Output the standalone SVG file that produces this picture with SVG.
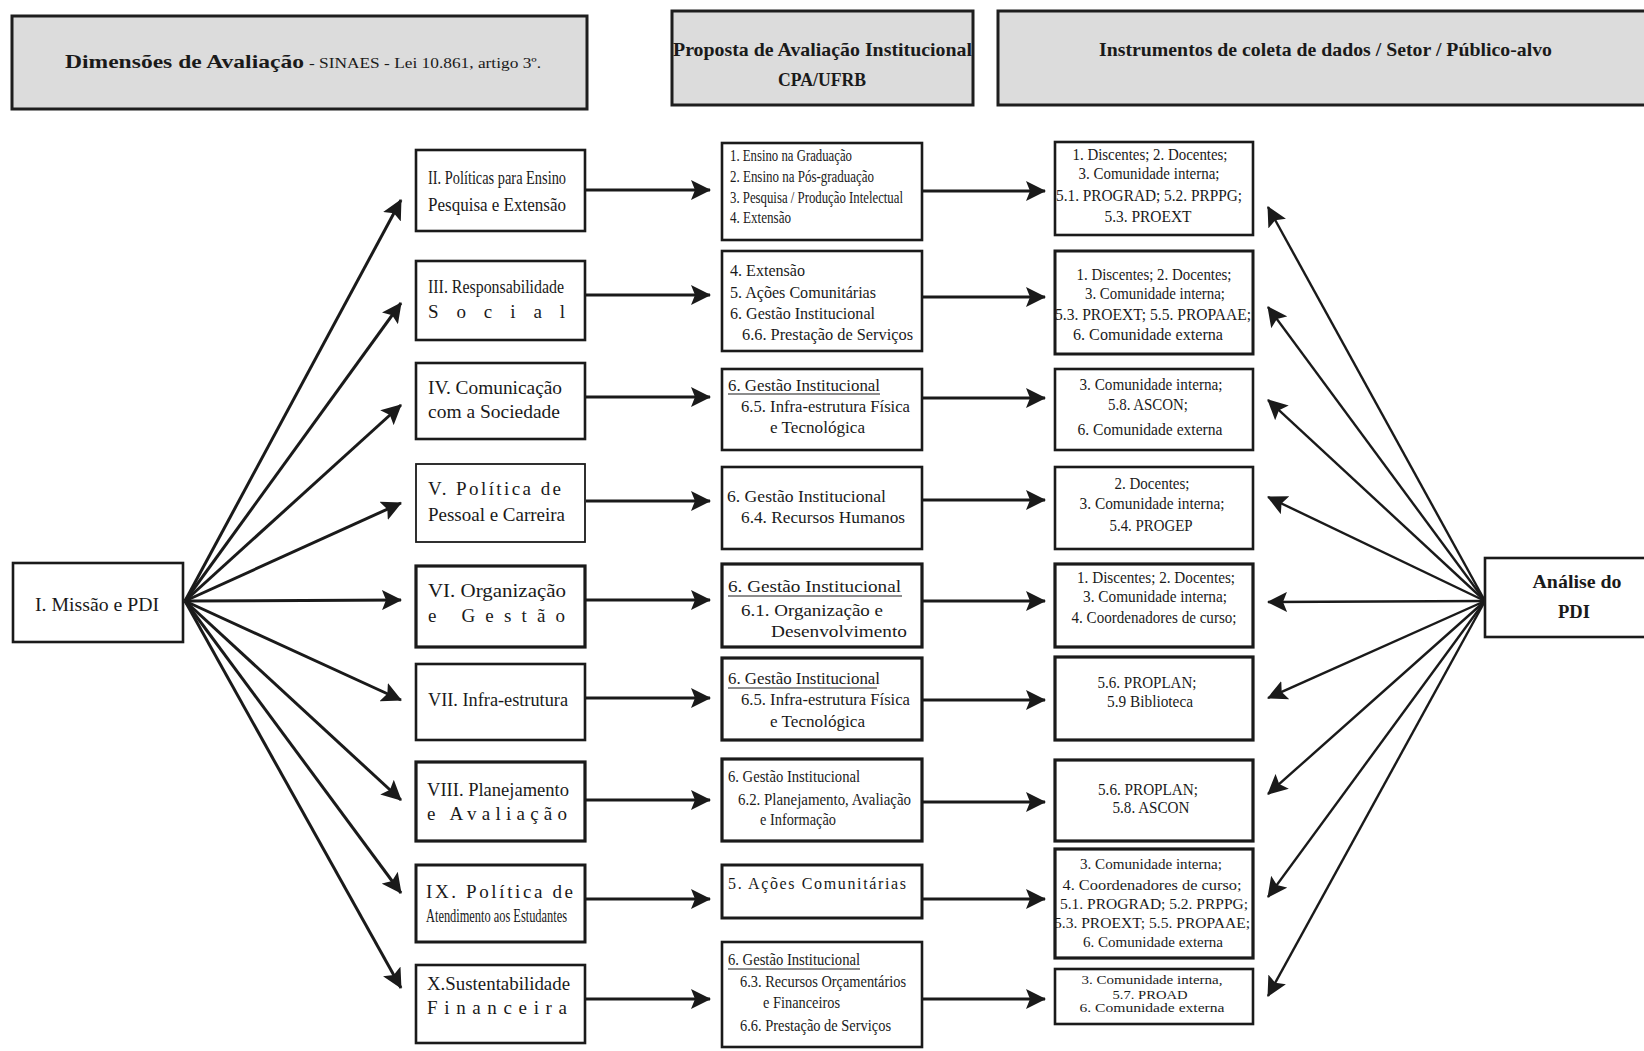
<svg xmlns="http://www.w3.org/2000/svg" width="1644" height="1051" viewBox="0 0 1644 1051">
<defs>
<style>
.hdr{fill:#dcdcdc;stroke:#1e1e1e;stroke-width:3}
.box{fill:#fff;stroke:#1a1a1a;stroke-width:2.6}
text{font-family:"Liberation Serif","DejaVu Serif",serif;fill:#1a1a1a}
.hb{font-size:19px;font-weight:bold}
.hr{font-size:15px}
.lt{font-size:19px}
.mt{font-size:16px}
.rt{font-size:16px;text-anchor:middle}
.r8{font-size:15px;text-anchor:middle}
.r9{font-size:12px;text-anchor:middle}
.ul{stroke:#1a1a1a;stroke-width:1.2}
.ar{fill:none;stroke:#1a1a1a;stroke-width:3;marker-end:url(#ah)}
.ar2{fill:none;stroke:#1a1a1a;stroke-width:2.4;marker-end:url(#ah)}
</style>
<marker id="ah" viewBox="0 0 20 20" markerWidth="20" markerHeight="20" refX="19" refY="10" orient="auto" markerUnits="userSpaceOnUse"><path d="M0,0 L20,10 L0,20 L4,10 z" fill="#1a1a1a"/></marker>
</defs>
<rect width="1644" height="1051" fill="#fff"/>

<g id="header-dimensoes">
<rect class="hdr" x="12" y="16" width="575" height="93"/>
<text class="hb" x="65" y="68" textLength="239" lengthAdjust="spacingAndGlyphs">Dimensões de Avaliação</text>
<text class="hr" x="309" y="68" textLength="232" lengthAdjust="spacingAndGlyphs">- SINAES - Lei 10.861, artigo 3º.</text>
</g>
<g id="header-proposta">
<rect class="hdr" x="672" y="11" width="301" height="94"/>
<text class="hb" x="673" y="56" textLength="299" lengthAdjust="spacingAndGlyphs">Proposta de Avaliação Institucional</text>
<text class="hb" x="822" y="86" text-anchor="middle" textLength="88" lengthAdjust="spacingAndGlyphs">CPA/UFRB</text>
</g>
<g id="header-instrumentos">
<rect class="hdr" x="998" y="11" width="662" height="94"/>
<text class="hb" x="1099" y="56" textLength="453" lengthAdjust="spacingAndGlyphs">Instrumentos de coleta de dados / Setor / Público-alvo</text>
</g>

<g id="connectors">
<path class="ar" d="M185,601 L401,200"/>
<path class="ar" d="M185,601 L401,303"/>
<path class="ar" d="M185,601 L401,405"/>
<path class="ar" d="M185,601 L401,503"/>
<path class="ar" d="M185,601 L401,600"/>
<path class="ar" d="M185,601 L401,700"/>
<path class="ar" d="M185,601 L401,800"/>
<path class="ar" d="M185,601 L401,893"/>
<path class="ar" d="M185,601 L401,988"/>

<path class="ar" d="M586,190 L710,190"/>
<path class="ar" d="M586,295 L710,295"/>
<path class="ar" d="M586,397 L710,397"/>
<path class="ar" d="M586,501 L710,501"/>
<path class="ar" d="M586,600 L710,600"/>
<path class="ar" d="M586,698 L710,698"/>
<path class="ar" d="M586,800 L710,800"/>
<path class="ar" d="M586,899 L710,899"/>
<path class="ar" d="M586,999 L710,999"/>

<path class="ar" d="M923,191 L1045,191"/>
<path class="ar" d="M923,297 L1045,297"/>
<path class="ar" d="M923,398 L1045,398"/>
<path class="ar" d="M923,500 L1045,500"/>
<path class="ar" d="M923,601 L1045,601"/>
<path class="ar" d="M923,700 L1045,700"/>
<path class="ar" d="M923,802 L1045,802"/>
<path class="ar" d="M923,899 L1045,899"/>
<path class="ar" d="M923,999 L1045,999"/>

<path class="ar2" d="M1485,601 L1268,207"/>
<path class="ar2" d="M1485,601 L1268,307"/>
<path class="ar2" d="M1485,601 L1268,400"/>
<path class="ar2" d="M1485,601 L1268,497"/>
<path class="ar2" d="M1485,601 L1268,602"/>
<path class="ar2" d="M1485,601 L1268,698"/>
<path class="ar2" d="M1485,601 L1268,794"/>
<path class="ar2" d="M1485,601 L1268,897"/>
<path class="ar2" d="M1485,601 L1268,996"/>
</g>

<g id="node-I">
<rect class="box" x="13" y="563" width="170" height="79"/>
<text class="lt" x="35" y="611" textLength="124" lengthAdjust="spacingAndGlyphs">I. Missão e PDI</text>
</g>

<g id="node-II">
<rect class="box" x="416" y="150" width="169" height="81"/>
<text class="lt" x="428" y="184" textLength="138" lengthAdjust="spacingAndGlyphs">II. Políticas para Ensino</text>
<text class="lt" x="428" y="211" textLength="138" lengthAdjust="spacingAndGlyphs">Pesquisa  e   Extensão</text>
</g>
<g id="node-III">
<rect class="box" x="416" y="261" width="169" height="79"/>
<text class="lt" x="428" y="293" textLength="136" lengthAdjust="spacingAndGlyphs">III. Responsabilidade</text>
<text class="lt" x="428" y="318" textLength="137" lengthAdjust="spacing">Social</text>
</g>
<g id="node-IV">
<rect class="box" x="416" y="363" width="169" height="76"/>
<text class="lt" x="428" y="394" textLength="134" lengthAdjust="spacingAndGlyphs">IV. Comunicação</text>
<text class="lt" x="428" y="418" textLength="132" lengthAdjust="spacingAndGlyphs">com a Sociedade</text>
</g>
<g id="node-V">
<rect class="box" x="416" y="464" width="169" height="78" style="stroke-width:1.8"/>
<text class="lt" x="428" y="495" textLength="133" lengthAdjust="spacing">V.  Política  de</text>
<text class="lt" x="428" y="521" textLength="137" lengthAdjust="spacingAndGlyphs">Pessoal e Carreira</text>
</g>
<g id="node-VI">
<rect class="box" x="416" y="566" width="169" height="81" style="stroke-width:3.2"/>
<text class="lt" x="428" y="597" textLength="138" lengthAdjust="spacingAndGlyphs">VI. Organização</text>
<text class="lt" x="428" y="622" textLength="137" lengthAdjust="spacing">e   Gestão</text>
</g>
<g id="node-VII">
<rect class="box" x="416" y="664" width="169" height="76"/>
<text class="lt" x="428" y="706" textLength="140" lengthAdjust="spacingAndGlyphs">VII. Infra-estrutura</text>
</g>
<g id="node-VIII">
<rect class="box" x="416" y="762" width="169" height="79" style="stroke-width:3.2"/>
<text class="lt" x="427" y="796" textLength="142" lengthAdjust="spacingAndGlyphs">VIII. Planejamento</text>
<text class="lt" x="427" y="820" textLength="140" lengthAdjust="spacing">e   Avaliação</text>
</g>
<g id="node-IX">
<rect class="box" x="416" y="865" width="169" height="77" style="stroke-width:3"/>
<text class="lt" x="426" y="898" textLength="147" lengthAdjust="spacing">IX.  Política  de</text>
<text class="lt" x="426" y="922" textLength="141" lengthAdjust="spacingAndGlyphs">Atendimento aos Estudantes</text>
</g>
<g id="node-X">
<rect class="box" x="416" y="965" width="169" height="78"/>
<text class="lt" x="427" y="990" textLength="143" lengthAdjust="spacingAndGlyphs">X.Sustentabilidade</text>
<text class="lt" x="427" y="1014" textLength="140" lengthAdjust="spacing">Financeira</text>
</g>

<g id="node-M1">
<rect class="box" x="722" y="143" width="200" height="97"/>
<text class="mt" x="730" y="161" textLength="122" lengthAdjust="spacingAndGlyphs">1. Ensino na Graduação</text>
<text class="mt" x="730" y="182" textLength="144" lengthAdjust="spacingAndGlyphs">2. Ensino na Pós-graduação</text>
<text class="mt" x="730" y="203" textLength="173" lengthAdjust="spacingAndGlyphs">3. Pesquisa / Produção Intelectual</text>
<text class="mt" x="730" y="223" textLength="61" lengthAdjust="spacingAndGlyphs">4. Extensão</text>
</g>
<g id="node-M2">
<rect class="box" x="722" y="251" width="200" height="100"/>
<text class="mt" x="730" y="276" textLength="75" lengthAdjust="spacingAndGlyphs">4. Extensão</text>
<text class="mt" x="730" y="298" textLength="146" lengthAdjust="spacingAndGlyphs">5. Ações Comunitárias</text>
<text class="mt" x="730" y="319" textLength="145" lengthAdjust="spacingAndGlyphs">6. Gestão Institucional</text>
<text class="mt" x="742" y="340" textLength="171" lengthAdjust="spacingAndGlyphs">6.6. Prestação de Serviços</text>
</g>
<g id="node-M3">
<rect class="box" x="722" y="369" width="200" height="81"/>
<text class="mt" x="728" y="391" textLength="152" lengthAdjust="spacingAndGlyphs">6. Gestão Institucional</text>
<line class="ul" x1="728" y1="394" x2="880" y2="394"/>
<text class="mt" x="741" y="412" textLength="169" lengthAdjust="spacingAndGlyphs">6.5. Infra-estrutura Física</text>
<text class="mt" x="770" y="433" textLength="95" lengthAdjust="spacingAndGlyphs">e Tecnológica</text>
</g>
<g id="node-M4">
<rect class="box" x="722" y="467" width="200" height="82"/>
<text class="mt" x="727" y="502" textLength="159" lengthAdjust="spacingAndGlyphs">6. Gestão Institucional</text>
<text class="mt" x="741" y="523" textLength="164" lengthAdjust="spacingAndGlyphs">6.4. Recursos Humanos</text>
</g>
<g id="node-M5">
<rect class="box" x="722" y="564" width="200" height="83" style="stroke-width:3.2"/>
<text class="mt" x="728" y="592" textLength="173" lengthAdjust="spacingAndGlyphs">6. Gestão Institucional</text>
<line class="ul" x1="728" y1="596" x2="902" y2="596"/>
<text class="mt" x="741" y="616" textLength="142" lengthAdjust="spacingAndGlyphs">6.1. Organização e</text>
<text class="mt" x="771" y="637" textLength="136" lengthAdjust="spacingAndGlyphs">Desenvolvimento</text>
</g>
<g id="node-M6">
<rect class="box" x="722" y="658" width="200" height="82" style="stroke-width:3.2"/>
<text class="mt" x="728" y="684" textLength="152" lengthAdjust="spacingAndGlyphs">6. Gestão Institucional</text>
<line class="ul" x1="728" y1="688" x2="877" y2="688"/>
<text class="mt" x="741" y="705" textLength="169" lengthAdjust="spacingAndGlyphs">6.5. Infra-estrutura Física</text>
<text class="mt" x="770" y="727" textLength="95" lengthAdjust="spacingAndGlyphs">e Tecnológica</text>
</g>
<g id="node-M7">
<rect class="box" x="722" y="759" width="200" height="82" style="stroke-width:3.2"/>
<text class="mt" x="728" y="782" textLength="132" lengthAdjust="spacingAndGlyphs">6. Gestão Institucional</text>
<text class="mt" x="738" y="805" textLength="173" lengthAdjust="spacingAndGlyphs">6.2. Planejamento,  Avaliação</text>
<text class="mt" x="760" y="825" textLength="76" lengthAdjust="spacingAndGlyphs">e Informação</text>
</g>
<g id="node-M8">
<rect class="box" x="722" y="865" width="200" height="53" style="stroke-width:3"/>
<text class="mt" x="728" y="889" textLength="178" lengthAdjust="spacing">5.  Ações  Comunitárias</text>
</g>
<g id="node-M9">
<rect class="box" x="722" y="942" width="200" height="105"/>
<text class="mt" x="728" y="965" textLength="132" lengthAdjust="spacingAndGlyphs">6. Gestão Institucional</text>
<line class="ul" x1="728" y1="969" x2="860" y2="969"/>
<text class="mt" x="740" y="987" textLength="166" lengthAdjust="spacingAndGlyphs">6.3. Recursos Orçamentários</text>
<text class="mt" x="763" y="1008" textLength="77" lengthAdjust="spacingAndGlyphs">e Financeiros</text>
<text class="mt" x="740" y="1031" textLength="151" lengthAdjust="spacingAndGlyphs">6.6. Prestação de Serviços</text>
</g>

<g id="node-R1">
<rect class="box" x="1055" y="142" width="198" height="93"/>
<text class="rt" x="1150" y="160" textLength="155" lengthAdjust="spacingAndGlyphs">1. Discentes; 2. Docentes;</text>
<text class="rt" x="1149" y="179" textLength="141" lengthAdjust="spacingAndGlyphs">3. Comunidade interna;</text>
<text class="rt" x="1149" y="201" textLength="186" lengthAdjust="spacingAndGlyphs">5.1. PROGRAD; 5.2. PRPPG;</text>
<text class="rt" x="1148" y="222" textLength="87" lengthAdjust="spacingAndGlyphs">5.3. PROEXT</text>
</g>
<g id="node-R2">
<rect class="box" x="1055" y="251" width="198" height="103" style="stroke-width:3"/>
<text class="rt" x="1154" y="280" textLength="155" lengthAdjust="spacingAndGlyphs">1. Discentes; 2. Docentes;</text>
<text class="rt" x="1155" y="299" textLength="140" lengthAdjust="spacingAndGlyphs">3. Comunidade interna;</text>
<text class="rt" x="1153" y="320" textLength="196" lengthAdjust="spacingAndGlyphs">5.3. PROEXT; 5.5. PROPAAE;</text>
<text class="rt" x="1148" y="340" textLength="150" lengthAdjust="spacingAndGlyphs">6. Comunidade externa</text>
</g>
<g id="node-R3">
<rect class="box" x="1055" y="369" width="198" height="81"/>
<text class="rt" x="1151" y="390" textLength="143" lengthAdjust="spacingAndGlyphs">3. Comunidade interna;</text>
<text class="rt" x="1148" y="410" textLength="80" lengthAdjust="spacingAndGlyphs">5.8. ASCON;</text>
<text class="rt" x="1150" y="435" textLength="145" lengthAdjust="spacingAndGlyphs">6. Comunidade externa</text>
</g>
<g id="node-R4">
<rect class="box" x="1055" y="467" width="198" height="82"/>
<text class="rt" x="1152" y="489" textLength="75" lengthAdjust="spacingAndGlyphs">2. Docentes;</text>
<text class="rt" x="1152" y="509" textLength="145" lengthAdjust="spacingAndGlyphs">3. Comunidade interna;</text>
<text class="rt" x="1151" y="531" textLength="83" lengthAdjust="spacingAndGlyphs">5.4. PROGEP</text>
</g>
<g id="node-R5">
<rect class="box" x="1055" y="564" width="198" height="83" style="stroke-width:3.2"/>
<text class="rt" x="1156" y="583" textLength="158" lengthAdjust="spacingAndGlyphs">1. Discentes; 2. Docentes;</text>
<text class="rt" x="1155" y="602" textLength="144" lengthAdjust="spacingAndGlyphs">3. Comunidade interna;</text>
<text class="rt" x="1154" y="623" textLength="165" lengthAdjust="spacingAndGlyphs">4. Coordenadores de curso;</text>
</g>
<g id="node-R6">
<rect class="box" x="1055" y="657" width="198" height="83" style="stroke-width:3.2"/>
<text class="rt" x="1147" y="688" textLength="99" lengthAdjust="spacingAndGlyphs">5.6. PROPLAN;</text>
<text class="rt" x="1150" y="707" textLength="86" lengthAdjust="spacingAndGlyphs">5.9 Biblioteca</text>
</g>
<g id="node-R7">
<rect class="box" x="1055" y="760" width="198" height="81" style="stroke-width:3.2"/>
<text class="rt" x="1148" y="795" textLength="100" lengthAdjust="spacingAndGlyphs">5.6. PROPLAN;</text>
<text class="rt" x="1151" y="813" textLength="77" lengthAdjust="spacingAndGlyphs">5.8. ASCON</text>
</g>
<g id="node-R8">
<rect class="box" x="1055" y="849" width="198" height="109" style="stroke-width:3.2"/>
<text class="r8" x="1151" y="869" textLength="142" lengthAdjust="spacingAndGlyphs">3. Comunidade interna;</text>
<text class="r8" x="1152" y="890" textLength="179" lengthAdjust="spacingAndGlyphs">4. Coordenadores de curso;</text>
<text class="r8" x="1154" y="909" textLength="188" lengthAdjust="spacingAndGlyphs">5.1. PROGRAD; 5.2. PRPPG;</text>
<text class="r8" x="1152" y="928" textLength="196" lengthAdjust="spacingAndGlyphs">5.3. PROEXT; 5.5. PROPAAE;</text>
<text class="r8" x="1153" y="947" textLength="140" lengthAdjust="spacingAndGlyphs">6. Comunidade externa</text>
</g>
<g id="node-R9">
<rect class="box" x="1055" y="969" width="198" height="55"/>
<text class="r9" x="1152" y="984" textLength="141" lengthAdjust="spacingAndGlyphs">3. Comunidade interna,</text>
<text class="r9" x="1150" y="999" textLength="75" lengthAdjust="spacingAndGlyphs">5.7. PROAD</text>
<text class="r9" x="1152" y="1012" textLength="145" lengthAdjust="spacingAndGlyphs">6. Comunidade externa</text>
</g>

<g id="node-analise">
<rect class="box" x="1485" y="558" width="175" height="79"/>
<text class="hb" x="1577" y="588" text-anchor="middle" textLength="89" lengthAdjust="spacingAndGlyphs">Análise do</text>
<text class="hb" x="1574" y="618" text-anchor="middle" textLength="32" lengthAdjust="spacingAndGlyphs">PDI</text>
</g>
</svg>
